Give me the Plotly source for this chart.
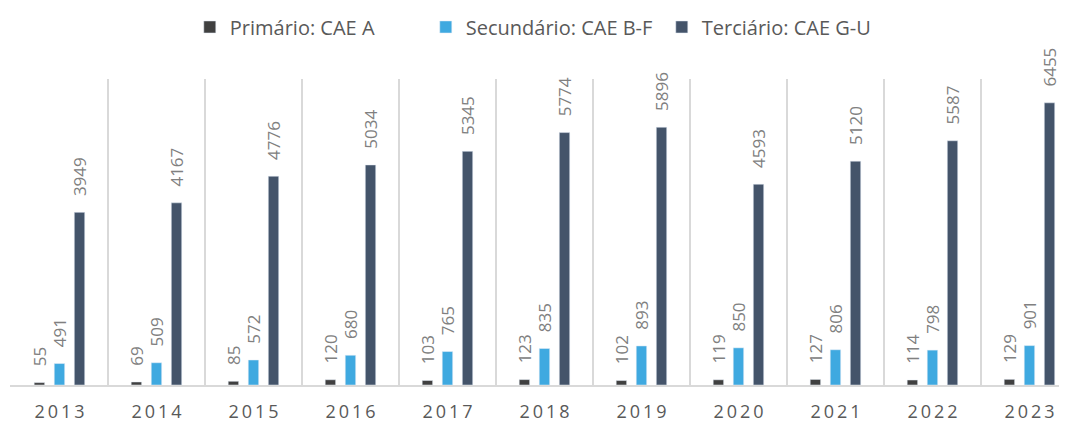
import plotly.graph_objects as go

years = ["2013", "2014", "2015", "2016", "2017", "2018", "2019", "2020", "2021", "2022", "2023"]
primario = [55, 69, 85, 120, 103, 123, 102, 119, 127, 114, 129]
secundario = [491, 509, 572, 680, 765, 835, 893, 850, 806, 798, 901]
terciario = [3949, 4167, 4776, 5034, 5345, 5774, 5896, 4593, 5120, 5587, 6455]

series = [
    ("Primário: CAE A", primario, "#404040"),
    ("Secundário: CAE B-F", secundario, "#3fa9e0"),
    ("Terciário: CAE G-U", terciario, "#44546a"),
]

# spaced-out year labels, like the original
year_labels = ["\u2009".join(y) for y in years]

fig = go.Figure()
for name, vals, color in series:
    fig.add_trace(go.Bar(
        x=years, y=vals, name=name, marker_color=color,
        text=vals, texttemplate="\u00a0\u00a0\u00a0%{text}",
        textposition="outside", textangle=-90, constraintext="none",
        textfont=dict(size=17, color="#808080", family="Open Sans"),
        cliponaxis=False,
    ))

# page body has an 8px margin, so the figure is 8px smaller
fig.update_layout(
    width=1059, height=415,
    margin=dict(l=2, r=0, t=71, b=38, autoexpand=False),
    paper_bgcolor="white", plot_bgcolor="white",
    barmode="group", bargap=0.38, bargroupgap=0.48,
    font=dict(family="Open Sans", color="#595959"),
    legend=dict(orientation="h", x=0.505, xanchor="center", y=1.17, yanchor="middle",
                font=dict(size=20, color="#595959"), itemwidth=30,
                entrywidth=191, entrywidthmode="pixels",
                traceorder="normal"),
)
fig.update_xaxes(
    type="category", range=[-0.51, 10.387],
    tickson="boundaries", showgrid=True, gridcolor="#d9d9d9", gridwidth=1.5,
    ticks="", showline=True, linecolor="#d9d9d9", linewidth=1.5,
    tickvals=years, ticktext=year_labels,
    tickfont=dict(size=18, color="#595959"), ticklabelstandoff=10,
)
fig.update_yaxes(range=[0, 7000], showgrid=False, showticklabels=False, zeroline=False)

fig.write_html("out.html")
